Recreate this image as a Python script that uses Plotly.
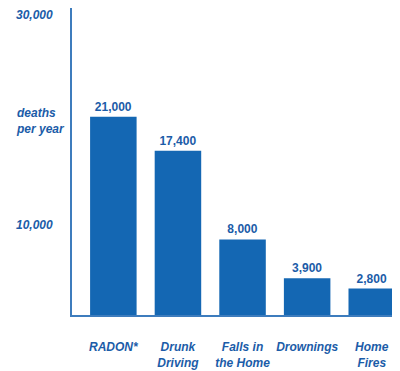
import plotly.graph_objects as go

categories = ["RADON*", "Drunk<br>Driving", "Falls in<br>the Home", "Drownings", "Home<br>Fires"]
deaths = [21000, 17400, 8000, 3900, 2800]
value_labels = ["21,000", "17,400", "8,000", "3,900", "2,800"]
ytick_vals = [30000, 20000, 10000]
ytick_text = ["30,000", "deaths<br>per year", "10,000"]
ytick_shift = [17, 5, -4]

BAR = "#1467b3"
TXT = "#1b5ca8"
AXIS = "#3d7cbd"
FONT = "Liberation Sans, Arial, sans-serif"

fig = go.Figure(go.Bar(
    x=categories, y=deaths, width=0.72,
    marker=dict(color=BAR, line=dict(width=0)),
    text=value_labels, textposition="outside", cliponaxis=False,
    textfont=dict(family=FONT, size=12, color=TXT, weight="bold"),
    hoverinfo="skip",
))

for v, t, s in zip(ytick_vals, ytick_text, ytick_shift):
    fig.add_annotation(
        x=-0.18, xref="paper", y=v, yref="y", yshift=s,
        text=t, showarrow=False, xanchor="left", yanchor="middle", align="left",
        font=dict(family=FONT, size=12, color=TXT, weight="bold", style="italic"),
    )

fig.update_layout(
    width=392, height=363,
    margin=dict(l=64, r=5, t=0, b=56),
    paper_bgcolor="white", plot_bgcolor="white",
    showlegend=False,
    xaxis=dict(
        range=[-0.64, 4.36], showgrid=False, zeroline=False,
        showline=True, linecolor=AXIS, linewidth=1.5,
        ticks="", ticklabelstandoff=20, tickangle=0, automargin=False,
        tickfont=dict(family=FONT, size=12, color=TXT, weight="bold", style="italic"),
    ),
    yaxis=dict(
        range=[0, 32500], showgrid=False, zeroline=False,
        showline=True, linecolor=AXIS, linewidth=1.5,
        ticks="", showticklabels=False, automargin=False,
    ),
)

fig.write_html("out.html")
